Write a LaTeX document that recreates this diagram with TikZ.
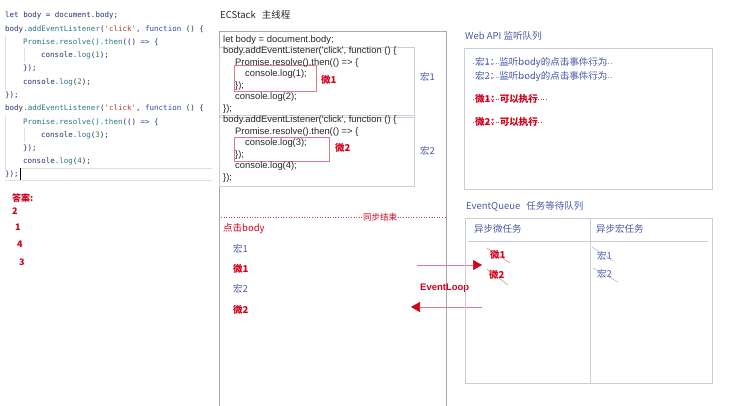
\documentclass[tikz,border=0pt]{standalone}
\usepackage{fontspec}
\setmainfont{Liberation Sans}
\setmonofont{DejaVu Sans Mono}
\newfontfamily\cjk{Noto Sans CJK SC}
\usetikzlibrary{arrows.meta}
\definecolor{cred}{HTML}{D0021B}
\definecolor{clred}{HTML}{E07A85}
\definecolor{cblue}{HTML}{4A5AA8}
\definecolor{cbord}{HTML}{C9CED9}
\definecolor{cgray}{HTML}{A8A8A8}
\definecolor{knav}{HTML}{26306E}
\definecolor{kteal}{HTML}{2A7585}
\definecolor{kstr}{HTML}{B03A30}
\definecolor{kkw}{HTML}{2448B8}
\definecolor{knum}{HTML}{2E8B3A}
\tikzset{
  code/.style={anchor=west, inner sep=0pt, font=\ttfamily\fontsize{7.5}{9}\selectfont, text=knav},
  stk/.style={anchor=west, inner sep=0pt, font=\fontsize{9.4}{11}\selectfont, text=black!85},
  rtxt/.style={anchor=west, inner sep=0pt, font=\cjk\fontsize{9.5}{11}\selectfont, text=cred},
  rbold/.style={rtxt, font=\cjk\bfseries\fontsize{9.5}{11}\selectfont},
  btxt/.style={anchor=west, inner sep=0pt, font=\cjk\fontsize{9.5}{11}\selectfont, text=cblue},
  ans/.style={anchor=west, inner sep=0pt, font=\cjk\bfseries\fontsize{9}{11}\selectfont, text=cred},
  panel/.style={draw=cbord, line width=0.8pt},
  micro/.style={draw=clred, line width=0.6pt},
  strikeb/.style={draw=cblue!60, dotted, line width=0.5pt},
  striker/.style={draw=cred!80, dotted, line width=0.5pt},
  slashr/.style={draw=clred, line width=0.5pt},
  slashb/.style={draw=cblue!50, line width=0.5pt},
  loop/.style={draw=clred, line width=0.7pt, -{Triangle[length=9pt,width=10pt,color=cred]}}
}
\begin{document}
\begin{tikzpicture}[x=1pt,y=-1pt]
\useasboundingbox (0,0) rectangle (734,405);
% ---------- left code ----------
\node[code] (c1) at (5,15) {let body = document.body;};
\node[code] (c2) at (5,29) {body\textcolor{kteal}{.addEventListener}(\textcolor{kstr}{\textquotesingle click\textquotesingle}, \textcolor{kkw}{function} () \{};
\node[code] (c3) at (23,42) {\textcolor{kteal}{Promise.resolve().then}(() \textcolor{kkw}{=>} \{};
\node[code] (c4) at (41,55) {console\textcolor{kteal}{.log}(\textcolor{knum}{1});};
\node[code] (c5) at (23,68) {\});};
\node[code] (c6) at (23,82) {console\textcolor{kteal}{.log}(\textcolor{knum}{2});};
\node[code] (c7) at (5,95) {\});};
\node[code] (c8) at (5,108) {body\textcolor{kteal}{.addEventListener}(\textcolor{kstr}{\textquotesingle click\textquotesingle}, \textcolor{kkw}{function} () \{};
\node[code] (c9) at (23,122) {\textcolor{kteal}{Promise.resolve().then}(() \textcolor{kkw}{=>} \{};
\node[code] (c10) at (41,135) {console\textcolor{kteal}{.log}(\textcolor{knum}{3});};
\node[code] (c11) at (23,148) {\});};
\node[code] (c12) at (23,161) {console\textcolor{kteal}{.log}(\textcolor{knum}{4});};
\node[code] (c13) at (5,174) {\});};
\draw[black!12, line width=0.6pt] (20,168) -- (212,168);
\draw[black!12, line width=0.6pt] (5,180) -- (212,180);
\draw[black, line width=0.8pt] (20,168) -- (20,180);
\draw[black!12, line width=0.5pt] (5,36) -- (5,90);
\draw[black!12, line width=0.5pt] (24,48) -- (24,62);
\draw[black!12, line width=0.5pt] (5,115) -- (5,170);
\draw[black!12, line width=0.5pt] (24,128) -- (24,142);
% answer
\node[ans] (a0) at (12,198) {答案:};
\node[ans] (a1) at (12,211) {2};
\node[ans] (a2) at (15,227) {1};
\node[ans] (a3) at (17,244) {4};
\node[ans] (a4) at (19,262) {3};
% ---------- ECStack ----------
\node[anchor=west, inner sep=0pt, font=\cjk\fontsize{9.5}{11}\selectfont, text=black!85] (st) at (220,15) {ECStack\hspace{6pt}主线程};
\draw[cgray, line width=0.8pt] (219,406) -- (219,31) -- (446,31) -- (446,406);
\draw[panel] (219,47) rectangle (414,115);
\draw[panel] (219,117) rectangle (414,186);
\draw[micro] (234,65) rectangle (316,91);
\draw[micro] (234,137) rectangle (329,161);
\node[stk] (s1) at (223,40) {let body = document.body;};
\node[stk] (s2) at (223,51.5) {body.addEventListener(\textquotesingle click\textquotesingle, function () \{};
\node[stk] (s3) at (235,63) {Promise.resolve().then(() => \{};
\node[stk] (s4) at (245,74.5) {console.log(1);};
\node[stk] (s5) at (235,86) {\});};
\node[stk] (s6) at (235,97.5) {console.log(2);};
\node[stk] (s7) at (223,109) {\});};
\node[stk] (s8) at (223,120.5) {body.addEventListener(\textquotesingle click\textquotesingle, function () \{};
\node[stk] (s9) at (235,132) {Promise.resolve().then(() => \{};
\node[stk] (s10) at (245,143.5) {console.log(3);};
\node[stk] (s11) at (235,155) {\});};
\node[stk] (s12) at (235,166.5) {console.log(4);};
\node[stk] (s13) at (223,178) {\});};
\node[rbold] (m1) at (321,80) {微1};
\node[rbold] (m2) at (335,148) {微2};
\node[btxt] (h1) at (420,77) {宏1};
\node[btxt] (h2) at (420,151) {宏2};
% sync end
\coordinate (d1) at (221,217);
\coordinate (d2) at (445,217);
\draw[cred!80, dotted, line width=0.6pt] (d1) -- (d2);
\node[fill=white, inner sep=1pt, font=\cjk\fontsize{8.5}{10}\selectfont, text=cred] (se) at (380,217) {同步结束};
\node[rtxt] (click) at (223,229) {点击body};
\node[btxt] (q1) at (233,249) {宏1};
\node[rbold] (q2) at (233,269) {微1};
\node[btxt] (q3) at (233,289) {宏2};
\node[rbold] (q4) at (233,310) {微2};
% event loop arrows
\coordinate (r1) at (417,265);
\coordinate (r2) at (482,265);
\coordinate (l1) at (482,307);
\coordinate (l2) at (411,307);
\draw[loop] (r1) -- (r2);
\draw[loop] (l1) -- (l2);
\node[anchor=west, inner sep=0pt, font=\bfseries\fontsize{9.5}{11}\selectfont, text=cred] (el) at (420,288) {EventLoop};
% ---------- Web API ----------
\node[btxt] (wt) at (465,36) {Web API 监听队列};
\draw[panel] (464,48) rectangle (712,189);
\node[btxt] (w1) at (475,63) {宏1：监听body的点击事件行为};
\node[btxt] (w2) at (475,77) {宏2：监听body的点击事件行为};
\node[rbold] (w3) at (475,99) {微1：可以执行};
\node[rbold] (w4) at (475,122) {微2：可以执行};
\draw[strikeb] ([xshift=-2pt]w1.west) -- ([xshift=3pt]w1.east);
\draw[strikeb] ([xshift=-2pt]w2.west) -- ([xshift=3pt]w2.east);
\draw[striker] ([xshift=-2pt]w3.west) -- ([xshift=8pt]w3.east);
\draw[striker] ([xshift=-2pt]w4.west) -- ([xshift=3pt]w4.east);
% ---------- EventQueue ----------
\node[btxt] (et) at (466,206) {EventQueue\hspace{6pt}任务等待队列};
\draw[panel] (465,218) rectangle (712,383);
\draw[panel] (590,218) -- (590,383);
\draw[panel] (468,241) -- (708,241);
\node[btxt] (hm) at (474,229) {异步微任务};
\node[btxt] (hh) at (596,229) {异步宏任务};
\node[rbold] (e1) at (490,255) {微1};
\node[rbold] (e2) at (489,275) {微2};
\node[btxt] (e3) at (597,256) {宏1};
\node[btxt] (e4) at (597,274) {宏2};
\draw[slashr] (487,248) -- (510,263);
\draw[slashr] (487,269) -- (508,285);
\draw[slashb] (592,247) -- (613,261);
\draw[slashb] (593,268) -- (618,282);
\end{tikzpicture}
\end{document}
